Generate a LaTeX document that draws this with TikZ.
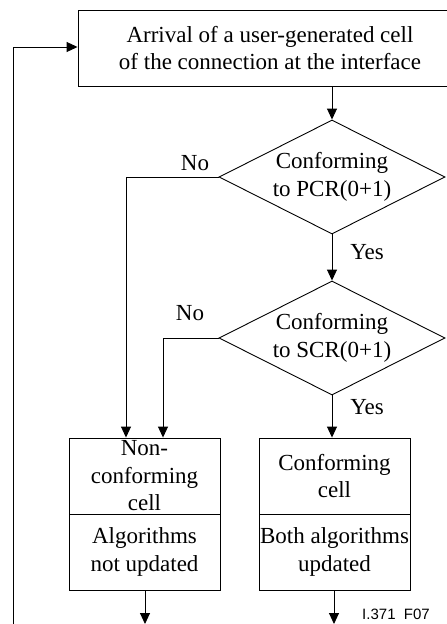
\documentclass[tikz,border=0pt]{standalone}
\usepackage{fontspec}
\setmainfont{Liberation Serif}
\newfontfamily\labelsans{Liberation Sans}
\usetikzlibrary{shapes.geometric,arrows.meta}

\begin{document}
\begin{tikzpicture}[x=1pt,y=-1pt,
  line width=0.9pt,
  every node/.style={font=\fontsize{23}{27.5}\selectfont},
  box/.style={draw,rectangle,align=center,inner sep=0pt,
              minimum width=151pt,minimum height=76pt},
  decision/.style={draw,diamond,aspect=2,align=center,inner sep=0pt,
              minimum width=226pt,minimum height=114pt},
  arr/.style={-{Triangle[length=11pt,width=10pt]}},
  lbl/.style={inner sep=0pt}]

\useasboundingbox (0,0) rectangle (447,624);

% process boxes and decisions
\node[box,minimum width=384pt] (arrival) at (270,48)
  {Arrival of a user-generated cell\\of the connection at the interface};
\node[decision] (pcr) at (332,177) {Conforming\\to PCR(0+1)};
\node[decision] (scr) at (332,338) {Conforming\\to SCR(0+1)};

\node[box] (noncell) at (144.5,476) {Non-\\conforming\\cell};
\node[box] (noalg)   at (144.5,552) {Algorithms\\not updated};
\node[box] (confcell) at (334.5,476) {Conforming\\cell};
\node[box] (bothalg)  at (334.5,552) {Both algorithms\\updated};

% free ends of the outgoing and loop-back lines
\coordinate (outL) at (145,624);
\coordinate (outR) at (334,624);
\coordinate (loop) at (13,624);

% connectors
\draw[arr] (pcr.north |- arrival.south) -- (pcr.north);
\draw[arr] (pcr.south) -- (scr.north);
\draw[arr] (pcr.west) -| ([xshift=-18.5pt]noncell.north);
\draw[arr] (scr.west) -| ([xshift=18.5pt]noncell.north);
\draw[arr] (scr.south) -- (scr.south |- confcell.north);
\draw[arr] (noalg.south -| outL) -- (outL);
\draw[arr] (bothalg.south -| outR) -- (outR);
\draw[arr] (loop) |- ([yshift=1pt]arrival.west);

% branch labels
\node[lbl] (no1)  at (195,163) {No};
\node[lbl] (no2)  at (190,313) {No};
\node[lbl] (yes1) at (367,252) {Yes};
\node[lbl] (yes2) at (367,407) {Yes};

% figure reference
\node[lbl,font=\labelsans\fontsize{15}{18}\selectfont] (figref) at (396,614) {I.371~~F07};
\end{tikzpicture}
\end{document}
